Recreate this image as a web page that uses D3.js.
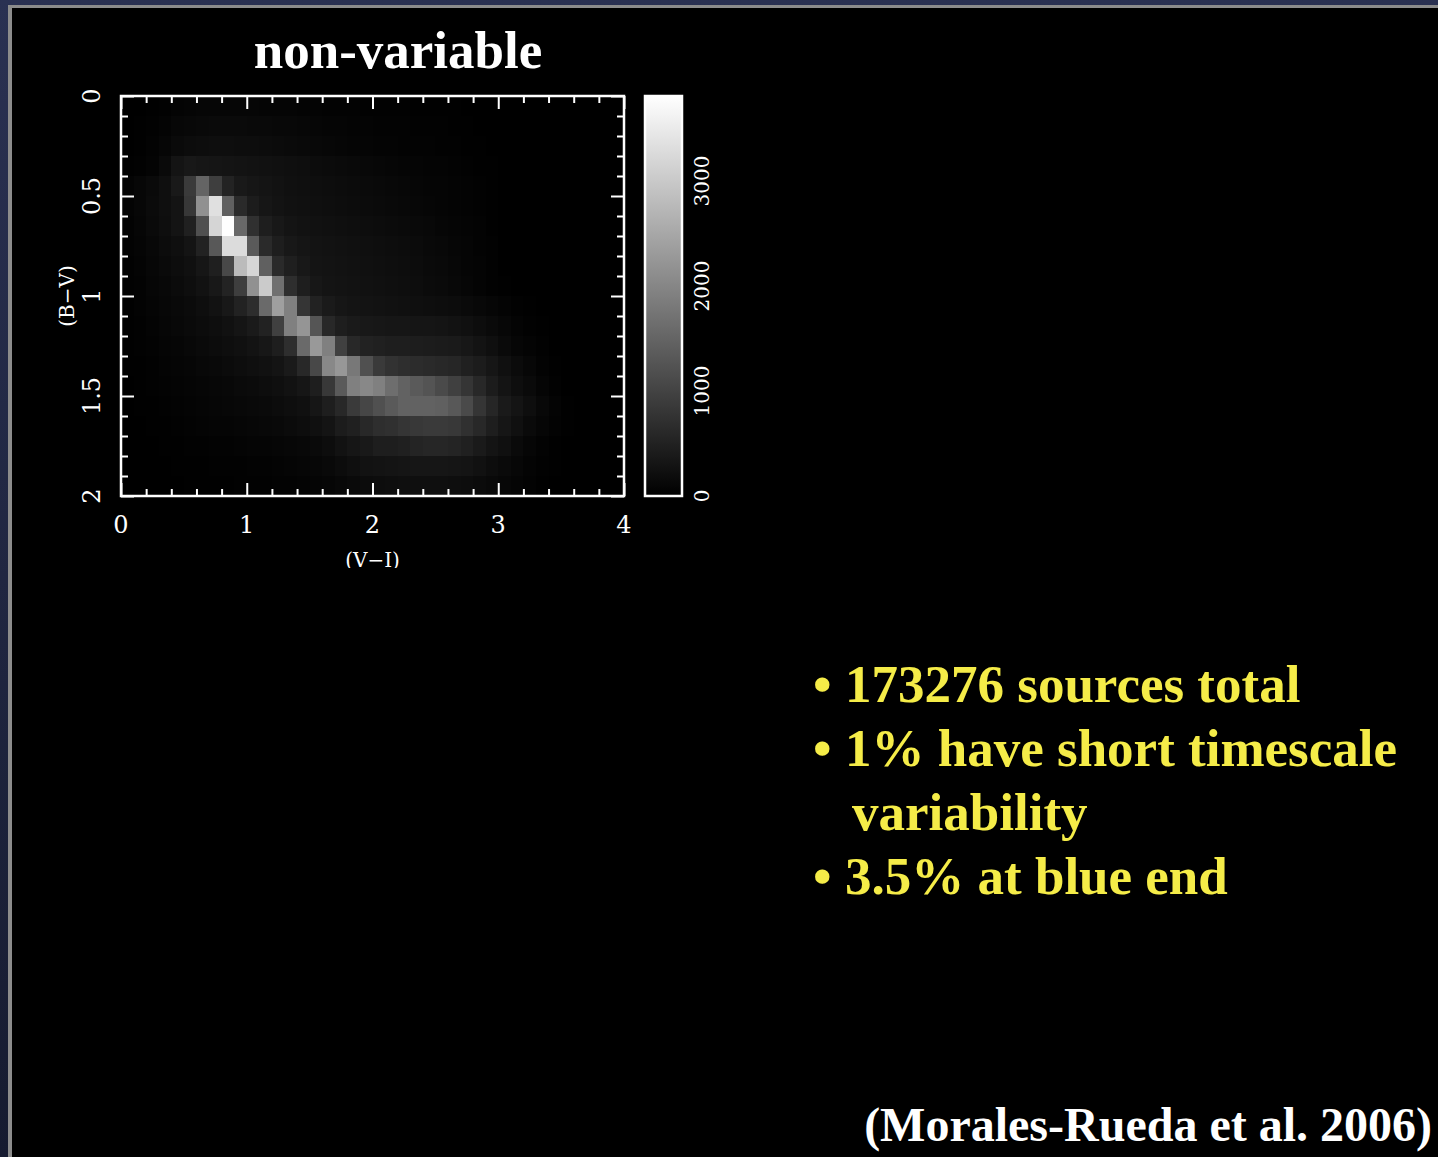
<!DOCTYPE html>
<html>
<head>
<meta charset="utf-8">
<script src="https://cdn.jsdelivr.net/npm/d3@7"></script>
<style>
  html, body { margin: 0; padding: 0; background: #000; overflow: hidden; }
  svg { display: block; }
</style>
</head>
<body>
<svg id="slide" width="1438" height="1157"></svg>
<script>
// ---- Histogram bins (left edges, 0.1 mag wide) ----
const vMinusIBins = [0.0,0.1,0.2,0.3,0.4,0.5,0.6,0.7,0.8,0.9,
                     1.0,1.1,1.2,1.3,1.4,1.5,1.6,1.7,1.8,1.9,
                     2.0,2.1,2.2,2.3,2.4,2.5,2.6,2.7,2.8,2.9,
                     3.0,3.1,3.2,3.3,3.4,3.5,3.6,3.7,3.8,3.9];
const bMinusVBins = [0.0,0.1,0.2,0.3,0.4,0.5,0.6,0.7,0.8,0.9,
                     1.0,1.1,1.2,1.3,1.4,1.5,1.6,1.7,1.8,1.9];
const binWidth = 0.1;

// ---- Source counts per bin: one row per (B−V) bin, one entry per (V−I) bin ----
const counts = [
  [0,0,15,30,60,75,90,90,90,90, 90,75,75,75,60,60,45,45,45,30, 30,30,30,15,15,15,15,0,0,0, 0,0,0,0,0,0,0,0,0,0],
  [0,15,30,60,105,120,135,150,150,150, 135,135,120,120,105,90,75,75,60,60, 45,45,45,30,30,30,15,15,0,0, 0,0,0,0,0,0,0,0,0,0],
  [0,15,45,90,150,180,195,210,210,195, 195,180,165,150,135,120,105,90,75,75, 60,60,45,45,45,30,30,15,15,0, 0,0,0,0,0,0,0,0,0,0],
  [15,30,60,150,300,360,330,315,300,285, 270,255,240,225,210,180,165,150,135,120, 105,90,75,75,60,60,45,30,15,15, 0,0,0,0,0,0,0,0,0,0],
  [60,105,150,225,375,865,1490,925,520,375, 330,300,270,240,225,210,195,180,165,150, 135,120,105,90,75,75,60,45,30,15, 0,0,0,0,0,0,0,0,0,0],
  [60,105,165,225,300,820,2160,3340,1430,625, 420,330,285,255,240,225,210,195,180,165, 150,135,120,105,90,75,60,45,30,15, 0,0,0,0,0,0,0,0,0,0],
  [45,90,150,210,300,475,1190,3175,3800,1550, 715,445,360,300,270,255,240,225,210,195, 180,165,150,135,120,90,75,60,45,15, 0,0,0,0,0,0,0,0,0,0],
  [45,75,120,180,225,300,505,1310,3280,3280, 1340,625,445,360,315,285,270,255,240,225, 210,195,180,165,135,120,90,75,45,30, 0,0,0,0,0,0,0,0,0,0],
  [30,60,105,150,195,240,330,460,1070,2800, 3190,1430,625,460,360,300,285,270,255,240, 225,210,195,180,150,135,105,75,60,30, 0,0,0,0,0,0,0,0,0,0],
  [30,45,90,120,165,210,270,360,520,925, 2160,3040,1670,685,445,345,300,285,270,255, 240,225,210,195,165,150,120,90,60,30, 15,0,0,0,0,0,0,0,0,0],
  [15,45,75,105,135,165,210,270,360,505, 670,1580,2380,1910,790,505,390,330,300,285, 270,255,240,225,210,195,180,150,120,90, 60,30,15,0,0,0,0,0,0,0],
  [15,30,60,90,120,150,180,210,255,315, 385,505,955,1910,2220,1270,595,445,385,360, 345,330,330,315,315,300,270,240,195,150, 105,60,30,15,0,0,0,0,0,0],
  [15,30,45,75,90,120,150,180,210,240, 285,345,445,685,1580,2290,1910,955,595,505, 480,445,445,430,415,400,385,345,285,220, 150,95,55,25,0,0,0,0,0,0],
  [15,15,30,60,75,90,120,135,165,195, 225,255,300,385,595,1070,2025,2260,1790,1190, 865,745,685,655,625,595,565,475,415,330, 240,165,105,45,15,0,0,0,0,0],
  [0,15,30,45,60,75,90,105,120,150, 165,195,225,270,330,445,835,1340,1910,2025, 1910,1640,1460,1340,1250,1100,955,790,595,415, 300,210,150,75,30,0,0,0,0,0],
  [0,15,15,30,45,60,75,90,105,120, 135,150,180,210,240,330,445,595,865,1040, 1190,1340,1460,1460,1460,1430,1310,1100,790,565, 385,300,210,120,60,15,0,0,0,0],
  [0,0,15,15,30,45,60,75,75,90, 105,120,135,165,195,240,300,415,475,595, 685,715,790,835,865,865,835,715,595,445, 330,240,150,90,45,15,0,0,0,0],
  [0,0,0,15,15,30,30,45,45,60, 75,75,90,105,120,150,195,270,330,370, 445,445,475,535,565,565,535,475,385,300, 240,150,90,45,15,0,0,0,0,0],
  [0,0,0,0,15,15,15,30,30,30, 45,45,60,75,90,105,135,180,225,270, 285,300,315,330,330,330,315,300,255,195, 150,105,60,30,15,0,0,0,0,0],
  [0,0,0,0,0,15,15,15,15,30, 30,30,45,45,60,75,90,120,150,180, 195,210,225,225,225,225,210,195,165,135, 105,75,45,15,0,0,0,0,0,0]
];

// ---- Axis and colour-bar ticks ----
const xMajorTicks = [0, 1, 2, 3, 4];
const xMinorTicks = [0.2,0.4,0.6,0.8,1.2,1.4,1.6,1.8,2.2,2.4,2.6,2.8,3.2,3.4,3.6,3.8];
const yMajorTicks = [0, 0.5, 1, 1.5, 2];
const yTickLabels = ["0", "0.5", "1", "1.5", "2"];
const yMinorTicks = [0.1,0.2,0.3,0.4,0.6,0.7,0.8,0.9,1.1,1.2,1.3,1.4,1.6,1.7,1.8,1.9];
const colorTicks = [0, 1000, 2000, 3000];
const colorMax = 3810;

// ---- Slide text ----
const titleText = "non-variable";
const xAxisTitle = "(V\u2212I)";
const yAxisTitle = "(B\u2212V)";
const bulletLines = [
  { bullet: true,  text: "173276 sources total" },
  { bullet: true,  text: "1% have short timescale" },
  { bullet: false, text: "variability" },
  { bullet: true,  text: "3.5% at blue end" }
];
const citation = "(Morales-Rueda et al. 2006)";

const svg = d3.select("#slide");
const W = 1438, H = 1157;
const serif = "'Liberation Serif', 'Times New Roman', serif";
const plotFont = "'DejaVu Serif', serif";

// ---- Slide frame: navy border, grey rule, black canvas ----
const defs = svg.append("defs");
const navy = defs.append("linearGradient").attr("id", "navy")
  .attr("x1", 0).attr("y1", 0).attr("x2", 0).attr("y2", 1);
navy.append("stop").attr("offset", 0).attr("stop-color", "#2a3152");
navy.append("stop").attr("offset", 1).attr("stop-color", "#161b30");
svg.append("rect").attr("width", W).attr("height", H).attr("fill", "url(#navy)");
svg.append("rect").attr("x", 8).attr("y", 5).attr("width", W - 8).attr("height", H - 5).attr("fill", "#8c8c8c");
svg.append("rect").attr("x", 12).attr("y", 8).attr("width", W - 12).attr("height", H - 8).attr("fill", "#000");

// ---- Chart geometry ----
const plot = { left: 121, right: 624, top: 96, bottom: 496 };
const x = d3.scaleLinear().domain([0, 4]).range([plot.left, plot.right]);
const y = d3.scaleLinear().domain([0, 2]).range([plot.top, plot.bottom]);
const grey = d3.scaleLinear().domain([0, colorMax]).range(["#000000", "#ffffff"]).clamp(true);

// ---- Title ----
svg.append("text")
  .attr("x", 398).attr("y", 68)
  .attr("text-anchor", "middle")
  .attr("font-family", serif).attr("font-weight", "bold").attr("font-size", 53)
  .attr("fill", "#fff")
  .text(titleText);

// ---- Heat map cells ----
const cells = [];
counts.forEach((row, ri) => row.forEach((v, ci) => cells.push({ vi: vMinusIBins[ci], bv: bMinusVBins[ri], v })));
svg.append("g").selectAll("rect").data(cells).join("rect")
  .attr("x", d => x(d.vi))
  .attr("y", d => y(d.bv))
  .attr("width", d => x(d.vi + binWidth) - x(d.vi) + 0.5)
  .attr("height", d => y(d.bv + binWidth) - y(d.bv) + 0.5)
  .attr("fill", d => grey(d.v))
  .attr("shape-rendering", "crispEdges");

// ---- Axes with inward ticks on all four sides ----
function styleAxis(g) {
  g.select(".domain").remove();
  g.selectAll("line").attr("stroke", "#fff").attr("stroke-width", 2);
  g.selectAll("text").remove();
}
svg.append("g").attr("transform", `translate(0,${plot.bottom})`)
  .call(d3.axisBottom(x).tickValues(xMinorTicks).tickSize(-7)).call(styleAxis);
svg.append("g").attr("transform", `translate(0,${plot.bottom})`)
  .call(d3.axisBottom(x).tickValues(xMajorTicks).tickSize(-13)).call(styleAxis);
svg.append("g").attr("transform", `translate(0,${plot.top})`)
  .call(d3.axisTop(x).tickValues(xMinorTicks).tickSize(-7)).call(styleAxis);
svg.append("g").attr("transform", `translate(0,${plot.top})`)
  .call(d3.axisTop(x).tickValues(xMajorTicks).tickSize(-13)).call(styleAxis);
svg.append("g").attr("transform", `translate(${plot.left},0)`)
  .call(d3.axisLeft(y).tickValues(yMinorTicks).tickSize(-7)).call(styleAxis);
svg.append("g").attr("transform", `translate(${plot.left},0)`)
  .call(d3.axisLeft(y).tickValues(yMajorTicks).tickSize(-13)).call(styleAxis);
svg.append("g").attr("transform", `translate(${plot.right},0)`)
  .call(d3.axisRight(y).tickValues(yMinorTicks).tickSize(-7)).call(styleAxis);
svg.append("g").attr("transform", `translate(${plot.right},0)`)
  .call(d3.axisRight(y).tickValues(yMajorTicks).tickSize(-13)).call(styleAxis);

svg.append("rect")
  .attr("x", plot.left).attr("y", plot.top)
  .attr("width", plot.right - plot.left).attr("height", plot.bottom - plot.top)
  .attr("fill", "none").attr("stroke", "#fff").attr("stroke-width", 2.5);

// ---- Tick labels ----
svg.append("g").selectAll("text").data(xMajorTicks).join("text")
  .attr("x", d => x(d)).attr("y", 533)
  .attr("text-anchor", "middle")
  .attr("font-family", plotFont).attr("font-size", 24).attr("fill", "#fff")
  .text(d => d);

svg.append("g").selectAll("text").data(yMajorTicks).join("text")
  .attr("transform", (d) => `translate(100,${y(d)}) rotate(-90)`)
  .attr("text-anchor", "middle")
  .attr("font-family", plotFont).attr("font-size", 24).attr("fill", "#fff")
  .text((d, i) => yTickLabels[i]);

// ---- Axis titles ----
const clip = defs.append("clipPath").attr("id", "upperPanel");
clip.append("rect").attr("x", 0).attr("y", 0).attr("width", W).attr("height", 568);
svg.append("text")
  .attr("x", x(2)).attr("y", 567)
  .attr("clip-path", "url(#upperPanel)")
  .attr("text-anchor", "middle")
  .attr("font-family", plotFont).attr("font-size", 20).attr("fill", "#fff")
  .text(xAxisTitle);

svg.append("text")
  .attr("transform", `translate(74,${y(1)}) rotate(-90)`)
  .attr("text-anchor", "middle")
  .attr("font-family", plotFont).attr("font-size", 20).attr("fill", "#fff")
  .text(yAxisTitle);

// ---- Colour bar ----
const cb = { x: 645, w: 37 };
const c = d3.scaleLinear().domain([0, colorMax]).range([plot.bottom, plot.top]);
const grad = defs.append("linearGradient").attr("id", "greyRamp")
  .attr("x1", 0).attr("y1", 1).attr("x2", 0).attr("y2", 0);
grad.append("stop").attr("offset", 0).attr("stop-color", grey(0));
grad.append("stop").attr("offset", 1).attr("stop-color", grey(colorMax));
svg.append("rect")
  .attr("x", cb.x).attr("y", c(colorMax))
  .attr("width", cb.w).attr("height", c(0) - c(colorMax))
  .attr("fill", "url(#greyRamp)")
  .attr("stroke", "#fff").attr("stroke-width", 2.5);

svg.append("g").selectAll("text").data(colorTicks).join("text")
  .attr("transform", d => `translate(709,${c(d)}) rotate(-90)`)
  .attr("text-anchor", "middle")
  .attr("font-family", plotFont).attr("font-size", 20).attr("fill", "#fff")
  .text(d => d);

// ---- Bullet points ----
const bulletColor = "#f5ec48";
const bulletG = svg.append("g")
  .attr("font-family", serif).attr("font-weight", "bold").attr("font-size", 53)
  .attr("fill", bulletColor);
bulletLines.forEach((line, i) => {
  const by = 702 + i * 64;
  if (line.bullet) {
    bulletG.append("text").attr("x", 813).attr("y", by).text("\u2022");
  }
  bulletG.append("text").attr("x", line.bullet ? 845 : 852).attr("y", by).text(line.text);
});

// ---- Reference ----
svg.append("text")
  .attr("x", 1432).attr("y", 1141)
  .attr("text-anchor", "end")
  .attr("font-family", serif).attr("font-weight", "bold").attr("font-size", 48)
  .attr("fill", "#fff")
  .text(citation);
</script>
</body>
</html>
